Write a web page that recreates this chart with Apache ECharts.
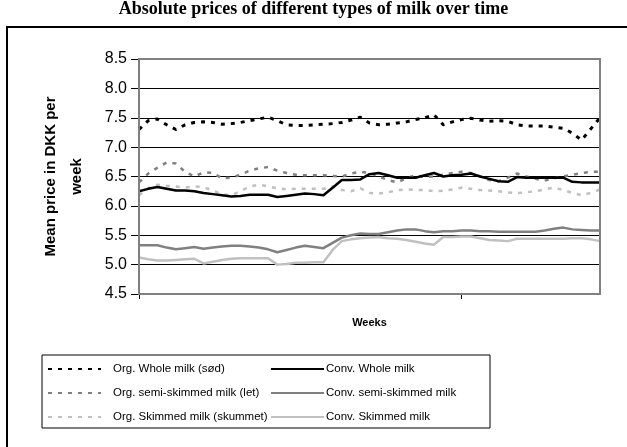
<!DOCTYPE html>
<html>
<head>
<meta charset="utf-8">
<script src="https://cdn.jsdelivr.net/npm/echarts@6/dist/echarts.min.js"></script>
<style>
  html, body { margin: 0; padding: 0; background: #fff; }
  #statistics { width: 627px; height: 447px; }
</style>
</head>
<body>
<div id="statistics"></div>
<script type="text/javascript">

// weeks (no labels shown on the axis)
var weeks = [1,2,3,4,5,6,7,8,9,10,11,12,13,14,15,16,17,18,19,20,21,22,23,24,25,26,
	27,28,29,30,31,32,33,34,35,36,37,38,39,40,41,42,43,44,45,46,47,48,49,50,51];

var yTicks = ['4.5','5.0','5.5','6.0','6.5','7.0','7.5','8.0','8.5'];

var orgWhole = [7.30,7.45,7.48,7.38,7.30,7.38,7.42,7.43,7.42,7.39,
	7.40,7.42,7.45,7.48,7.51,7.45,7.38,7.37,7.37,7.38,
	7.39,7.40,7.42,7.46,7.51,7.41,7.38,7.39,7.41,7.43,
	7.47,7.50,7.55,7.38,7.43,7.47,7.49,7.46,7.44,7.45,
	7.44,7.38,7.36,7.36,7.36,7.34,7.32,7.24,7.12,7.31,7.50];

var convWhole = [6.25,6.29,6.32,6.29,6.26,6.26,6.25,6.22,6.20,6.18,
	6.16,6.17,6.19,6.19,6.19,6.15,6.17,6.19,6.21,6.20,
	6.18,6.31,6.44,6.44,6.45,6.54,6.56,6.52,6.48,6.48,
	6.48,6.52,6.56,6.50,6.52,6.53,6.55,6.50,6.46,6.42,
	6.41,6.49,6.48,6.48,6.48,6.48,6.48,6.41,6.40,6.40,6.40];

var orgSemi = [6.40,6.55,6.65,6.74,6.72,6.58,6.50,6.57,6.56,6.47,
	6.48,6.53,6.60,6.64,6.66,6.60,6.56,6.53,6.52,6.52,
	6.52,6.51,6.50,6.55,6.58,6.56,6.50,6.44,6.40,6.47,
	6.52,6.49,6.50,6.53,6.56,6.58,6.56,6.50,6.44,6.42,
	6.48,6.55,6.50,6.46,6.43,6.47,6.50,6.53,6.56,6.58,6.58];

var convSemi = [5.33,5.33,5.33,5.29,5.26,5.28,5.30,5.27,5.29,5.31,
	5.32,5.32,5.31,5.29,5.26,5.21,5.25,5.29,5.32,5.30,
	5.28,5.37,5.46,5.50,5.53,5.52,5.52,5.55,5.58,5.60,
	5.60,5.57,5.55,5.57,5.57,5.58,5.58,5.57,5.57,5.56,
	5.56,5.56,5.56,5.56,5.58,5.61,5.63,5.60,5.59,5.58,5.58];

var orgSkim = [6.18,6.30,6.36,6.34,6.33,6.31,6.33,6.32,6.26,6.20,
	6.18,6.25,6.33,6.36,6.33,6.30,6.28,6.29,6.29,6.29,
	6.29,6.33,6.27,6.25,6.30,6.22,6.21,6.23,6.27,6.28,
	6.27,6.27,6.25,6.26,6.28,6.31,6.29,6.27,6.26,6.25,
	6.23,6.22,6.23,6.25,6.28,6.31,6.27,6.22,6.18,6.22,6.28];

var convSkim = [5.12,5.09,5.07,5.07,5.08,5.09,5.10,5.02,5.05,5.08,
	5.10,5.11,5.11,5.11,5.11,5.00,5.01,5.03,5.03,5.04,
	5.04,5.25,5.40,5.43,5.45,5.46,5.47,5.45,5.44,5.42,
	5.39,5.36,5.34,5.47,5.47,5.48,5.48,5.45,5.42,5.41,
	5.40,5.44,5.44,5.44,5.44,5.44,5.44,5.45,5.45,5.43,5.40];

var names = ['Org. Whole milk (sød)','Org. semi-skimmed milk (let)','Org. Skimmed milk (skummet)',
	'Conv. Whole milk','Conv. semi-skimmed milk','Conv. Skimmed milk'];

var dash = [4, 6];

function line(name, data, color, width, type) {
	return {
		name: name,
		type: 'line',
		data: data,
		symbol: 'none',
		animation: false,
		lineStyle: { color: color, width: width, type: type, cap: 'butt', join: 'round' },
		itemStyle: { color: color }
	};
}

var legendText = { fontFamily: 'Liberation Sans', fontSize: 11.5, color: '#000' };

var myChart = echarts.init(document.getElementById('statistics'));
var option = {
	backgroundColor: '#fff',
	animation: false,
	title: {
		text: 'Absolute prices of different types of milk over time',
		left: 'center',
		top: -5,
		textStyle: { fontFamily: 'Liberation Serif', fontWeight: 'bold', fontSize: 18, color: '#000' }
	},
	grid: { left: 139, right: 27, top: 59, bottom: 153 },
	legend: [
		{
			data: names.slice(0, 3),
			orient: 'vertical',
			left: 47, top: 363, padding: 0,
			itemWidth: 53, itemHeight: 14, itemGap: 12,
			itemStyle: { opacity: 0 },
			selectedMode: false,
			textStyle: Object.assign({ padding: [0, 0, 0, 7] }, legendText)
		},
		{
			data: names.slice(3),
			orient: 'vertical',
			left: 270, top: 363, padding: 0,
			itemWidth: 53, itemHeight: 14, itemGap: 12,
			itemStyle: { opacity: 0 },
			selectedMode: false,
			textStyle: Object.assign({ padding: [0, 0, 0, -3] }, legendText)
		}
	],
	xAxis: {
		type: 'category',
		data: weeks,
		boundaryGap: false,
		name: 'Weeks',
		nameLocation: 'middle',
		nameGap: 23,
		nameTextStyle: { fontFamily: 'Liberation Sans', fontWeight: 'bold', fontSize: 11, color: '#000' },
		axisLine: { lineStyle: { color: '#808080', width: 2 } },
		axisTick: { length: 5, interval: 34, lineStyle: { color: '#000' } },
		axisLabel: { show: false },
		splitLine: { show: false }
	},
	yAxis: {
		type: 'value',
		min: 4.5, max: 8.5, interval: 0.5,
		name: 'Mean price in DKK per\nweek',
		nameLocation: 'middle',
		nameGap: 49,
		nameRotate: 90,
		nameTextStyle: { fontFamily: 'Liberation Sans', fontWeight: 'bold', fontSize: 15, color: '#000', lineHeight: 26 },
		axisLine: { show: true, lineStyle: { color: '#555', width: 2 } },
		axisTick: { show: true, length: 8, lineStyle: { color: '#000' } },
		axisLabel: {
			fontFamily: 'Liberation Sans', fontSize: 16, color: '#000', margin: 12,
			formatter: function (v) { return yTicks[Math.round((v - 4.5) / 0.5)]; }
		},
		splitLine: { lineStyle: { color: '#000', width: 1 } }
	},
	graphic: [
		// outer frame of the figure (runs off the right and bottom edge)
		{ type: 'rect', shape: { x: 7, y: 27, width: 700, height: 500 }, style: { fill: 'none', stroke: '#000', lineWidth: 2 }, silent: true },
		// plot area border
		{ type: 'rect', z: 10, shape: { x: 139, y: 59, width: 461, height: 235 }, style: { fill: 'none', stroke: '#808080', lineWidth: 2 }, silent: true },
		// legend box
		{ type: 'rect', shape: { x: 42, y: 355, width: 448, height: 73 }, style: { fill: 'none', stroke: '#000', lineWidth: 1 }, silent: true }
	],
	series: [
		line(names[0], orgWhole, '#000000', 3, dash),
		line(names[1], orgSemi, '#808080', 2.5, dash),
		line(names[2], orgSkim, '#c0c0c0', 2.5, dash),
		line(names[3], convWhole, '#000000', 2.5, 'solid'),
		line(names[4], convSemi, '#808080', 2.5, 'solid'),
		line(names[5], convSkim, '#c0c0c0', 2.5, 'solid')
	]
};
myChart.setOption(option);
</script>
</body>
</html>
